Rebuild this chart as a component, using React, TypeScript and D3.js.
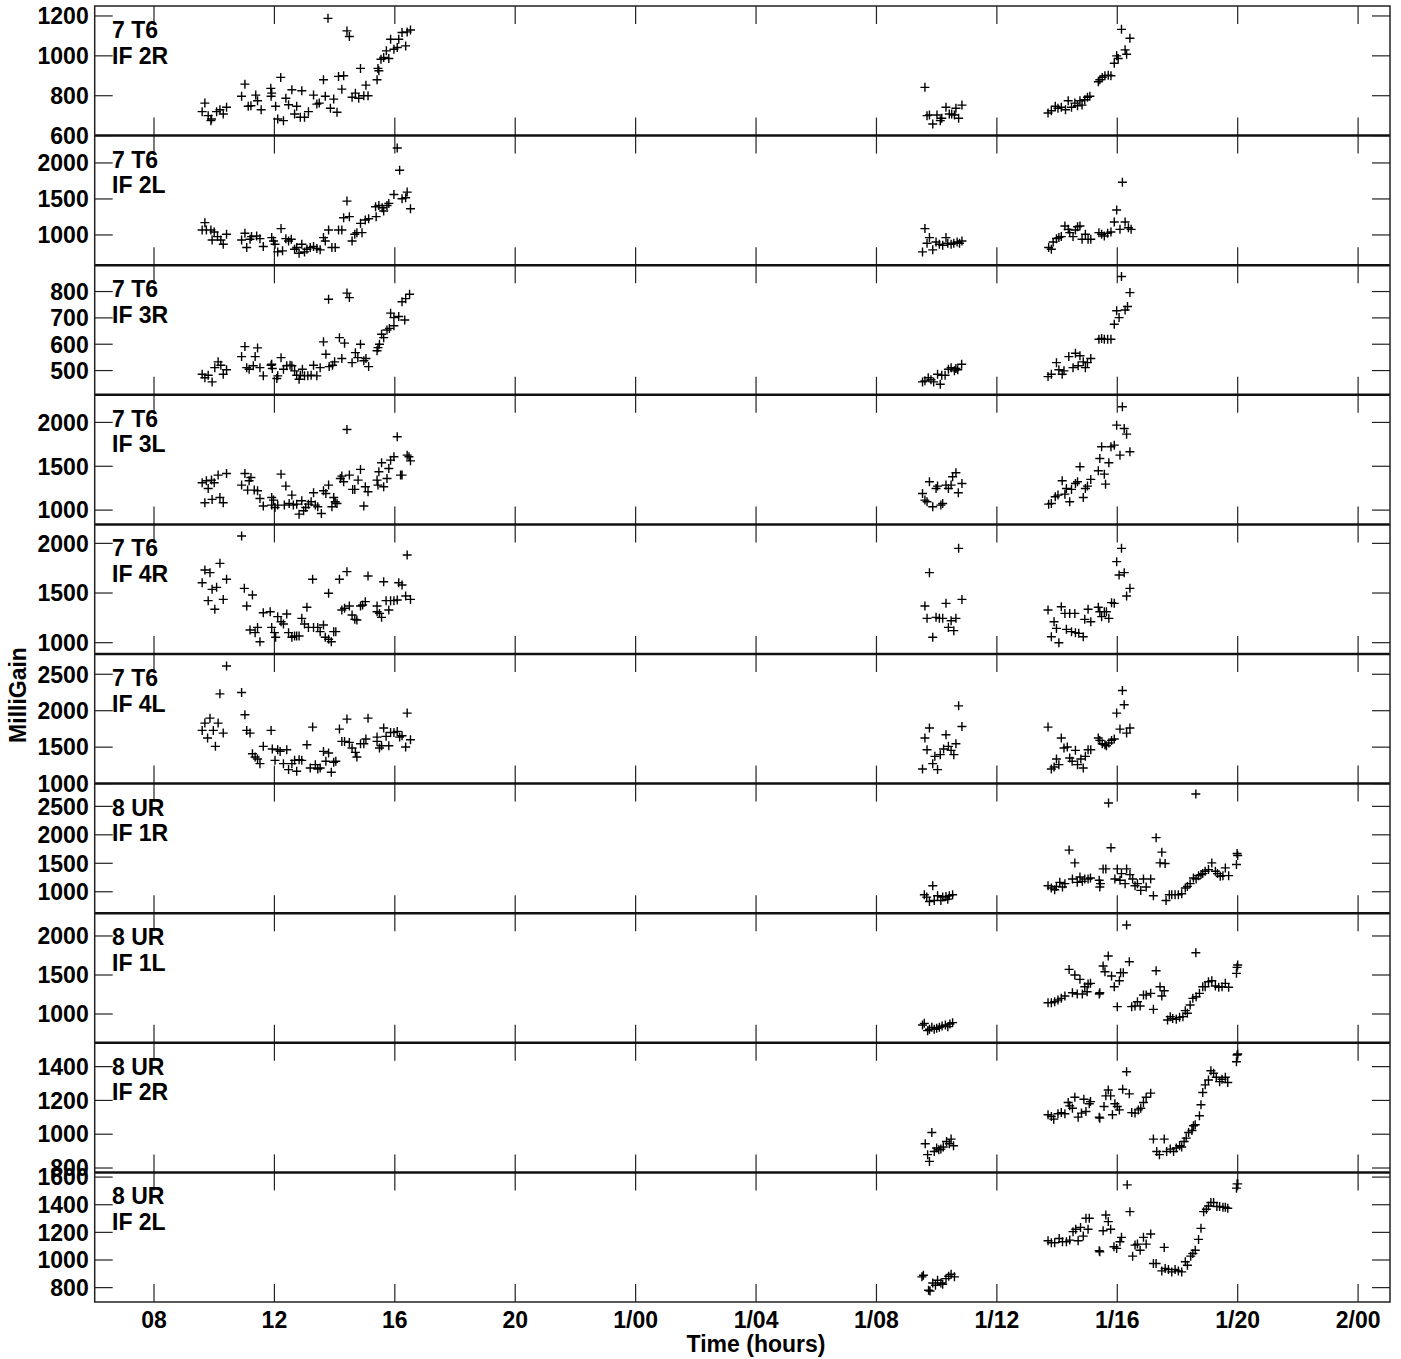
import * as d3 from 'd3'

// time axis in hours from day 0, 00:00
const timeDomain: [number, number] = [6.03, 49.06]
const timeTicks = [8, 12, 16, 20, 24, 28, 32, 36, 40, 44, 48]

// antenna 7 T6
const t6IF2R: [number, number][] = [
  [9.60, 720], [9.69, 763], [9.80, 700], [9.89, 675], [9.91, 683], [10.08, 720], [10.19, 730], [10.30, 708], [10.41, 742],
  [10.91, 797], [11.02, 858], [11.13, 747], [11.22, 750], [11.38, 803], [11.44, 775], [11.56, 730],
  [11.88, 837], [11.89, 797], [11.91, 813], [12.04, 747], [12.11, 683], [12.21, 892], [12.30, 675],
  [12.38, 787], [12.47, 755], [12.58, 830], [12.67, 708], [12.74, 747], [12.86, 692], [12.91, 825], [13.00, 692], [13.13, 720],
  [13.30, 803], [13.41, 758], [13.49, 763], [13.63, 880], [13.69, 797], [13.78, 1188], [13.86, 737], [13.97, 783], [14.08, 717],
  [14.13, 897], [14.24, 833], [14.30, 900], [14.41, 1125], [14.49, 1097], [14.58, 792], [14.69, 813], [14.80, 787], [14.86, 937],
  [14.97, 800], [15.04, 853], [15.11, 800], [15.41, 880], [15.44, 937], [15.47, 925], [15.54, 983], [15.63, 992], [15.72, 1025],
  [15.80, 987], [15.86, 1083], [15.97, 1033], [16.08, 1042], [16.13, 1083], [16.24, 1117], [16.36, 1050], [16.41, 1120], [16.52, 1130],
  [33.61, 842], [33.68, 700], [33.76, 703], [33.87, 658], [34.01, 703], [34.12, 675], [34.17, 687], [34.31, 742], [34.42, 708],
  [34.50, 708], [34.59, 703], [34.64, 737], [34.73, 687], [34.84, 753],
  [37.70, 713], [37.81, 725], [37.94, 747], [38.03, 737], [38.14, 742], [38.28, 730], [38.37, 775], [38.48, 742], [38.59, 763],
  [38.68, 750], [38.76, 775], [38.83, 753], [38.92, 780], [39.01, 792], [39.09, 797], [39.37, 870], [39.42, 880], [39.50, 892],
  [39.59, 900], [39.70, 903], [39.79, 900], [39.90, 963], [39.98, 1000], [40.03, 987], [40.14, 1133], [40.26, 1030], [40.31, 1008], [40.42, 1088],
]

const t6IF2L: [number, number][] = [
  [9.60, 1069], [9.69, 1171], [9.74, 1069], [9.89, 1069], [9.93, 931], [10.00, 1041], [10.11, 977], [10.22, 931], [10.30, 871], [10.41, 1009],
  [10.91, 931], [11.02, 1023], [11.08, 825], [11.19, 940], [11.24, 977], [11.41, 986], [11.52, 949], [11.63, 839],
  [11.91, 963], [11.97, 917], [12.02, 871], [12.11, 765], [12.22, 1088], [12.27, 779], [12.38, 949], [12.47, 917], [12.56, 940],
  [12.67, 802], [12.74, 825], [12.82, 746], [12.91, 871], [13.00, 765], [13.08, 802], [13.19, 825], [13.30, 839], [13.41, 811],
  [13.52, 793], [13.63, 963], [13.69, 917], [13.80, 1069], [13.91, 825], [14.02, 825], [14.13, 1069], [14.24, 1069], [14.30, 1240],
  [14.41, 1470], [14.49, 1254], [14.58, 917], [14.67, 1009], [14.74, 1032], [14.86, 1161], [14.91, 1032], [15.02, 1207], [15.13, 1226],
  [15.36, 1392], [15.38, 1254], [15.47, 1410], [15.58, 1378], [15.63, 1332], [15.74, 1410], [15.80, 1438], [15.97, 1562],
  [16.08, 2208], [16.16, 1899], [16.24, 1502], [16.36, 1516], [16.41, 1595], [16.52, 1364],
  [33.53, 765], [33.61, 1088], [33.68, 885], [33.76, 963], [33.87, 793], [33.98, 903], [34.09, 871], [34.20, 857], [34.31, 963],
  [34.37, 885], [34.48, 871], [34.57, 885], [34.68, 903], [34.76, 885], [34.84, 917],
  [37.72, 825], [37.81, 802], [37.87, 903], [37.98, 949], [38.06, 963], [38.14, 977], [38.26, 1124], [38.37, 1078], [38.42, 1032],
  [38.53, 977], [38.61, 1069], [38.68, 1115], [38.76, 1124], [38.83, 940], [38.94, 1009], [39.03, 940], [39.12, 940],
  [39.39, 1032], [39.48, 1009], [39.57, 986], [39.68, 1023], [39.79, 1041], [39.90, 1180], [39.98, 1346], [40.09, 1078],
  [40.17, 1733], [40.26, 1180], [40.37, 1101], [40.46, 1078],
]

const t6IF3R: [number, number][] = [
  [9.60, 486], [9.69, 473], [9.80, 482], [9.93, 457], [10.02, 511], [10.13, 533], [10.22, 520], [10.30, 486], [10.41, 503],
  [10.91, 553], [11.02, 591], [11.08, 511], [11.16, 505], [11.30, 518], [11.36, 553], [11.44, 586], [11.52, 511], [11.63, 480],
  [11.89, 520], [11.91, 524], [11.93, 508], [12.08, 470], [12.11, 480], [12.22, 549], [12.30, 505], [12.41, 518], [12.52, 520],
  [12.58, 518], [12.67, 499], [12.74, 482], [12.82, 467], [12.86, 482], [12.93, 505], [13.00, 480], [13.11, 480], [13.22, 482],
  [13.30, 520], [13.41, 480], [13.52, 511], [13.63, 609], [13.71, 562], [13.80, 771], [13.82, 515], [13.93, 520], [14.00, 533],
  [14.16, 625], [14.24, 546], [14.33, 604], [14.41, 794], [14.49, 777], [14.58, 530], [14.69, 568], [14.77, 549], [14.86, 600],
  [14.97, 537], [15.04, 546], [15.13, 515], [15.41, 575], [15.44, 587], [15.49, 600], [15.56, 638], [15.63, 625], [15.74, 654],
  [15.82, 660], [15.86, 718], [15.97, 670], [15.97, 701], [16.13, 705], [16.24, 761], [16.33, 692], [16.36, 773], [16.49, 790],
  [33.53, 457], [33.61, 461], [33.72, 473], [33.81, 465], [33.90, 457], [34.03, 486], [34.12, 448], [34.17, 482], [34.28, 482],
  [34.39, 505], [34.48, 511], [34.59, 499], [34.64, 508], [34.70, 503], [34.83, 524],
  [37.70, 477], [37.81, 486], [37.98, 530], [38.06, 503], [38.17, 486], [38.23, 499], [38.39, 553], [38.53, 511], [38.61, 566],
  [38.70, 518], [38.76, 556], [38.87, 533], [38.94, 511], [39.01, 530], [39.12, 546], [39.39, 619], [39.48, 622], [39.57, 619],
  [39.68, 619], [39.79, 619], [39.90, 676], [39.98, 727], [40.06, 701], [40.14, 857], [40.26, 730], [40.34, 743], [40.42, 796],
]

const t6IF3L: [number, number][] = [
  [9.60, 1312], [9.69, 1084], [9.74, 1334], [9.80, 1247], [9.91, 1342], [9.93, 1122], [10.00, 1312], [10.13, 1399], [10.19, 1144],
  [10.30, 1084], [10.41, 1418], [10.91, 1285], [11.02, 1418], [11.11, 1228], [11.16, 1334], [11.22, 1372], [11.33, 1228],
  [11.44, 1220], [11.52, 1133], [11.63, 1046], [11.91, 1144], [11.91, 1057], [11.97, 1114], [12.02, 1030], [12.11, 1057],
  [12.22, 1410], [12.33, 1057], [12.38, 1274], [12.49, 1076], [12.58, 1171], [12.63, 1057], [12.74, 1068], [12.82, 954],
  [12.91, 1106], [12.97, 992], [13.04, 1030], [13.13, 1068], [13.22, 1095], [13.30, 1198], [13.36, 1057], [13.44, 1038],
  [13.56, 962], [13.63, 1220], [13.71, 1190], [13.80, 1285], [13.91, 1038], [13.97, 1144], [14.02, 1095], [14.08, 1076],
  [14.19, 1361], [14.24, 1388], [14.30, 1323], [14.41, 1920], [14.49, 1399], [14.60, 1236], [14.67, 1236], [14.78, 1342],
  [14.86, 1464], [14.97, 1046], [15.02, 1266], [15.11, 1209], [15.41, 1342], [15.44, 1285], [15.47, 1437], [15.56, 1540],
  [15.63, 1266], [15.74, 1361], [15.80, 1475], [15.86, 1570], [15.97, 1608], [16.08, 1836], [16.19, 1399], [16.24, 1399],
  [16.41, 1627], [16.47, 1608], [16.52, 1562],
  [33.53, 1190], [33.61, 1114], [33.68, 1095], [33.76, 1323], [33.87, 1038], [33.98, 1247], [34.03, 1274], [34.14, 1057],
  [34.20, 1076], [34.31, 1285], [34.39, 1247], [34.48, 1285], [34.53, 1380], [34.64, 1426], [34.72, 1198], [34.84, 1304],
  [37.72, 1068], [37.81, 1076], [37.94, 1152], [38.03, 1171], [38.17, 1334], [38.26, 1182], [38.31, 1247], [38.42, 1095],
  [38.48, 1236], [38.61, 1304], [38.68, 1323], [38.76, 1494], [38.87, 1144], [38.94, 1247], [39.01, 1274], [39.12, 1350],
  [39.37, 1448], [39.42, 1589], [39.48, 1722], [39.57, 1410], [39.61, 1296], [39.72, 1540], [39.79, 1722], [39.90, 1741],
  [39.98, 1969], [40.09, 1627], [40.17, 2178], [40.23, 1931], [40.31, 1866], [40.42, 1665],
]

const t6IF4R: [number, number][] = [
  [9.60, 1604], [9.69, 1732], [9.80, 1423], [9.86, 1705], [9.93, 1537], [10.02, 1336], [10.08, 1557], [10.19, 1799], [10.30, 1436],
  [10.41, 1638], [10.91, 2074], [11.00, 1547], [11.08, 1369], [11.19, 1128], [11.27, 1480], [11.36, 1101], [11.44, 1154],
  [11.52, 1010], [11.63, 1302], [11.86, 1312], [11.91, 1154], [12.00, 1101], [12.04, 1054], [12.11, 1262], [12.22, 1211],
  [12.30, 1188], [12.41, 1289], [12.47, 1101], [12.58, 1054], [12.67, 1067], [12.74, 1067], [12.82, 1067], [12.91, 1245],
  [13.00, 1188], [13.08, 1356], [13.13, 1154], [13.27, 1638], [13.30, 1154], [13.44, 1154], [13.52, 1111], [13.63, 1178],
  [13.69, 1054], [13.80, 1034], [13.80, 1497], [13.89, 1010], [13.97, 1111], [14.04, 1111], [14.16, 1638], [14.24, 1329],
  [14.33, 1346], [14.41, 1715], [14.49, 1369], [14.58, 1279], [14.67, 1235], [14.74, 1228], [14.86, 1369], [14.93, 1379],
  [15.02, 1413], [15.11, 1671], [15.41, 1369], [15.41, 1312], [15.49, 1295], [15.56, 1255], [15.63, 1614], [15.71, 1423],
  [15.80, 1329], [15.86, 1423], [15.97, 1423], [16.08, 1430], [16.13, 1604], [16.24, 1581], [16.36, 1470], [16.41, 1883], [16.52, 1436],
  [33.61, 1369], [33.68, 1245], [33.76, 1705], [33.87, 1054], [33.98, 1255], [34.09, 1245], [34.20, 1245], [34.31, 1396],
  [34.39, 1154], [34.48, 1221], [34.57, 1121], [34.64, 1245], [34.73, 1950], [34.84, 1436],
  [37.70, 1329], [37.81, 1060], [37.90, 1211], [37.98, 1144], [38.06, 1000], [38.14, 1362], [38.26, 1295], [38.31, 1134],
  [38.42, 1295], [38.48, 1111], [38.59, 1295], [38.61, 1101], [38.72, 1094], [38.87, 1060], [38.92, 1235], [39.03, 1336],
  [39.12, 1211], [39.37, 1356], [39.42, 1312], [39.48, 1262], [39.57, 1312], [39.64, 1312], [39.72, 1245], [39.81, 1403],
  [39.90, 1396], [39.98, 1816], [40.06, 1681], [40.14, 1950], [40.23, 1705], [40.31, 1470], [40.42, 1547],
]

const t6IF4L: [number, number][] = [
  [9.60, 1730], [9.69, 1830], [9.78, 1625], [9.86, 1898], [9.97, 1730], [10.04, 1511], [10.13, 1830], [10.19, 2231], [10.30, 1693],
  [10.41, 2614], [10.91, 2249], [11.02, 1944], [11.08, 1730], [11.19, 1693], [11.27, 1410], [11.36, 1365], [11.44, 1337],
  [11.52, 1274], [11.63, 1511], [11.89, 1730], [11.93, 1474], [12.02, 1319], [12.11, 1465], [12.19, 1442], [12.30, 1274],
  [12.41, 1465], [12.47, 1192], [12.58, 1274], [12.67, 1319], [12.74, 1169], [12.82, 1328], [12.91, 1319], [13.08, 1534],
  [13.19, 1214], [13.27, 1775], [13.36, 1260], [13.44, 1201], [13.52, 1214], [13.63, 1442], [13.71, 1306], [13.80, 1420],
  [13.89, 1155], [13.97, 1292], [14.04, 1306], [14.16, 1748], [14.24, 1579], [14.33, 1579], [14.41, 1885], [14.49, 1565],
  [14.58, 1488], [14.69, 1429], [14.74, 1365], [14.86, 1547], [14.97, 1547], [15.04, 1611], [15.11, 1898], [15.41, 1638],
  [15.41, 1579], [15.49, 1488], [15.56, 1520], [15.63, 1762], [15.71, 1648], [15.80, 1520], [15.86, 1702], [15.97, 1702],
  [16.08, 1716], [16.16, 1638], [16.24, 1657], [16.36, 1502], [16.41, 1967], [16.52, 1602],
  [33.53, 1201], [33.61, 1625], [33.68, 1465], [33.76, 1762], [33.87, 1274], [33.94, 1374], [34.03, 1192], [34.12, 1397],
  [34.23, 1474], [34.31, 1670], [34.39, 1511], [34.48, 1456], [34.57, 1397], [34.64, 1547], [34.73, 2067], [34.84, 1784],
  [37.70, 1775], [37.81, 1201], [37.90, 1228], [37.98, 1337], [38.06, 1260], [38.14, 1625], [38.23, 1488], [38.34, 1502],
  [38.42, 1351], [38.50, 1306], [38.61, 1456], [38.68, 1260], [38.79, 1337], [38.87, 1214], [38.94, 1374], [39.03, 1465],
  [39.12, 1465], [39.37, 1625], [39.42, 1593], [39.50, 1547], [39.59, 1534], [39.64, 1520], [39.72, 1556], [39.81, 1593],
  [39.90, 1611], [39.98, 1967], [40.09, 1748], [40.17, 2277], [40.23, 2081], [40.31, 1693], [40.42, 1762],
]

// antenna 8 UR
const urIF1R: [number, number][] = [
  [33.59, 947], [33.67, 906], [33.76, 829], [33.87, 1106], [33.92, 847], [34.03, 929], [34.14, 847], [34.20, 906], [34.31, 917],
  [34.37, 870], [34.42, 929], [34.53, 947],
  [37.70, 1106], [37.81, 1065], [37.92, 1035], [37.98, 1094], [38.09, 1165], [38.18, 1083], [38.26, 1142], [38.40, 1732],
  [38.51, 1224], [38.59, 1507], [38.67, 1165], [38.76, 1260], [38.84, 1183], [38.92, 1224], [39.03, 1224], [39.11, 1242],
  [39.40, 1201], [39.42, 1083], [39.44, 1142], [39.53, 1401], [39.62, 1401], [39.71, 2558], [39.79, 1773], [39.92, 1224],
  [40.00, 1401], [40.09, 1201], [40.14, 1319], [40.26, 1142], [40.31, 1401], [40.42, 1301], [40.51, 1224], [40.59, 1106],
  [40.67, 1142], [40.78, 1024], [40.87, 1224], [40.96, 1083], [41.11, 1224], [41.20, 929], [41.29, 1950], [41.42, 1507],
  [41.48, 1696], [41.59, 1496], [41.62, 847], [41.73, 947], [41.81, 947], [41.92, 947], [42.03, 947], [42.14, 965],
  [42.26, 1065], [42.33, 1094], [42.42, 1142], [42.53, 1242], [42.61, 2717], [42.62, 1224], [42.70, 1283], [42.78, 1301],
  [42.84, 1319], [42.92, 1360], [43.03, 1389], [43.14, 1507], [43.26, 1360], [43.33, 1319], [43.42, 1271], [43.51, 1283],
  [43.59, 1419], [43.70, 1283], [43.96, 1478], [43.98, 1673], [44.00, 1637],
]

const urIF1L: [number, number][] = [
  [33.53, 859], [33.59, 880], [33.70, 787], [33.76, 804], [33.84, 829], [33.92, 804], [34.00, 816], [34.09, 829], [34.18, 846],
  [34.29, 859], [34.37, 838], [34.44, 872], [34.53, 889],
  [37.70, 1145], [37.81, 1145], [37.92, 1158], [38.03, 1179], [38.14, 1201], [38.26, 1231], [38.40, 1572], [38.51, 1273],
  [38.59, 1500], [38.67, 1256], [38.76, 1444], [38.84, 1256], [38.92, 1350], [39.00, 1286], [39.03, 1384], [39.11, 1393],
  [39.40, 1256], [39.42, 1273], [39.53, 1615], [39.59, 1542], [39.70, 1743], [39.81, 1487], [39.90, 1350], [40.00, 1094],
  [40.07, 1427], [40.11, 1529], [40.20, 1529], [40.31, 2140], [40.40, 1670], [40.48, 1094], [40.59, 1102], [40.67, 1158],
  [40.76, 1102], [40.87, 1243], [40.96, 1243], [41.11, 1265], [41.20, 1060], [41.29, 1555], [41.42, 1350], [41.48, 1231],
  [41.56, 1299], [41.67, 923], [41.76, 966], [41.84, 944], [41.96, 932], [42.07, 957], [42.18, 966], [42.26, 1043],
  [42.33, 1009], [42.42, 1115], [42.51, 1201], [42.61, 1786], [42.62, 1222], [42.73, 1265], [42.84, 1350], [42.92, 1350],
  [43.03, 1414], [43.14, 1427], [43.26, 1359], [43.37, 1342], [43.48, 1350], [43.59, 1393], [43.70, 1342], [43.96, 1521],
  [43.98, 1598], [44.00, 1628],
]

const urIF2R: [number, number][] = [
  [33.62, 944], [33.70, 879], [33.76, 839], [33.84, 1010], [33.92, 898], [34.00, 918], [34.07, 908], [34.14, 912], [34.22, 924],
  [34.33, 957], [34.42, 944], [34.48, 971], [34.56, 932],
  [37.70, 1115], [37.81, 1105], [37.89, 1089], [38.03, 1121], [38.14, 1128], [38.26, 1121], [38.37, 1188], [38.42, 1168],
  [38.51, 1154], [38.59, 1219], [38.70, 1101], [38.81, 1125], [38.89, 1207], [38.96, 1134], [39.07, 1180], [39.11, 1193],
  [39.40, 1101], [39.42, 1095], [39.56, 1164], [39.62, 1227], [39.70, 1262], [39.78, 1227], [39.84, 1115], [39.92, 1180],
  [40.00, 1164], [40.07, 1144], [40.18, 1266], [40.31, 1370], [40.40, 1239], [40.48, 1128], [40.59, 1125], [40.70, 1144],
  [40.78, 1154], [40.87, 1188], [40.96, 1219], [41.11, 1243], [41.20, 971], [41.31, 898], [41.40, 879], [41.56, 971],
  [41.64, 898], [41.76, 912], [41.87, 898], [41.96, 918], [42.07, 932], [42.14, 924], [42.22, 957], [42.29, 977],
  [42.37, 1010], [42.48, 1022], [42.53, 1050], [42.59, 1056], [42.73, 1109], [42.78, 1174], [42.84, 1247], [42.92, 1292],
  [43.03, 1321], [43.11, 1376], [43.20, 1361], [43.29, 1337], [43.40, 1311], [43.48, 1325], [43.59, 1337], [43.67, 1306],
  [43.96, 1429], [43.98, 1469], [44.00, 1475],
]

const urIF2L: [number, number][] = [
  [33.51, 878], [33.56, 890], [33.73, 781], [33.78, 776], [33.87, 834], [33.96, 817], [34.03, 853], [34.14, 834], [34.20, 824],
  [34.31, 865], [34.40, 882], [34.48, 897], [34.59, 878],
  [37.70, 1139], [37.81, 1125], [37.92, 1125], [38.07, 1156], [38.18, 1132], [38.31, 1132], [38.42, 1144], [38.53, 1205],
  [38.62, 1222], [38.70, 1139], [38.78, 1236], [38.87, 1173], [38.96, 1302], [39.03, 1222], [39.07, 1302], [39.40, 1067],
  [39.42, 1059], [39.53, 1212], [39.62, 1326], [39.70, 1278], [39.78, 1222], [39.89, 1096], [39.98, 1084], [40.09, 1132],
  [40.14, 1164], [40.33, 1544], [40.42, 1350], [40.51, 1028], [40.59, 1108], [40.67, 1115], [40.76, 1071], [40.87, 1164],
  [40.96, 1115], [41.11, 1188], [41.20, 975], [41.29, 975], [41.48, 921], [41.56, 1091], [41.59, 938], [41.70, 931],
  [41.81, 914], [41.92, 931], [42.03, 921], [42.14, 914], [42.26, 987], [42.33, 962], [42.44, 1028], [42.51, 1047],
  [42.59, 1071], [42.70, 1149], [42.78, 1229], [42.87, 1350], [42.96, 1367], [43.03, 1391], [43.11, 1416], [43.20, 1416],
  [43.31, 1387], [43.40, 1387], [43.51, 1382], [43.59, 1382], [43.67, 1374], [43.96, 1520], [43.98, 1551], [44.00, 1551],
]

const panelNames = [
  ['7 T6', 'IF 2R'], ['7 T6', 'IF 2L'], ['7 T6', 'IF 3R'], ['7 T6', 'IF 3L'], ['7 T6', 'IF 4R'],
  ['7 T6', 'IF 4L'], ['8 UR', 'IF 1R'], ['8 UR', 'IF 1L'], ['8 UR', 'IF 2R'], ['8 UR', 'IF 2L'],
]
const panelData = [t6IF2R, t6IF2L, t6IF3R, t6IF3L, t6IF4R, t6IF4L, urIF1R, urIF1L, urIF2R, urIF2L]
const panelRanges: [number, number][] = [
  [600, 1250], [580, 2380], [408, 900], [837, 2315], [886, 2191],
  [1000, 2778], [623, 2900], [631, 2292], [774, 1541], [696, 1634],
]
const panelTicks = [
  [600, 800, 1000, 1200], [1000, 1500, 2000], [500, 600, 700, 800], [1000, 1500, 2000], [1000, 1500, 2000],
  [1000, 1500, 2000, 2500], [1000, 1500, 2000, 2500], [1000, 1500, 2000], [800, 1000, 1200, 1400], [800, 1000, 1200, 1400, 1600],
]

const W = 1401
const H = 1359
const left = 94.7
const right = 1390
const top = 6
const bottom = 1302
const font = "'Liberation Sans', Arial, Helvetica, sans-serif"
const tickLen = 18

function timeLabel(h: number) {
  const day = Math.floor(h / 24)
  const hh = String(h % 24).padStart(2, '0')
  return day === 0 ? hh : `${day}/${hh}`
}

export default function App() {
  const x = d3.scaleLinear().domain(timeDomain).range([left, right])
  const panelH = (bottom - top) / panelData.length
  const cross = (px: number, py: number) => `M${px - 4.5},${py}h9M${px},${py - 4.5}v9`

  return (
    <svg width={W} height={H} style={{ position: 'absolute', left: 0, top: 0, background: '#fff' }}
      fontFamily={font} fontWeight="bold">
      <rect width={W} height={H} fill="#fff" />
      {panelData.map((pts, i) => {
        const y0 = top + i * panelH
        const y1 = y0 + panelH
        const y = d3.scaleLinear().domain(panelRanges[i]).range([y1, y0])
        return (
          <g key={i}>
            {timeTicks.map(t => (
              <g key={t} stroke="#222" strokeWidth={1.2}>
                <line x1={x(t)} x2={x(t)} y1={y0} y2={y0 + tickLen} />
                <line x1={x(t)} x2={x(t)} y1={y1} y2={y1 - tickLen} />
              </g>
            ))}
            {panelTicks[i].map(v => (
              <g key={v}>
                <line x1={left} x2={left + tickLen} y1={y(v)} y2={y(v)} stroke="#222" strokeWidth={1.2} />
                <line x1={right} x2={right - tickLen} y1={y(v)} y2={y(v)} stroke="#222" strokeWidth={1.2} />
                <text x={left - 6} y={y(v)} dy="0.36em" textAnchor="end" fontSize={23} fill="#000">{v}</text>
              </g>
            ))}
            <text x={112} y={y0 + 32} fontSize={23} fill="#000">{panelNames[i][0]}</text>
            <text x={112} y={y0 + 57.5} fontSize={23} fill="#000">{panelNames[i][1]}</text>
            <path d={pts.map(([t, v]) => cross(x(t), y(v))).join('')} stroke="#000" strokeWidth={1.4} fill="none" />
          </g>
        )
      })}
      {d3.range(1, panelData.length).map(i => (
        <line key={i} x1={left} x2={right} y1={top + i * panelH} y2={top + i * panelH} stroke="#111" strokeWidth={2.5} />
      ))}
      <rect x={left} y={top} width={right - left} height={bottom - top} fill="none" stroke="#222" strokeWidth={1.5} />
      {timeTicks.map(t => (
        <text key={t} x={x(t)} y={bottom + 26} textAnchor="middle" fontSize={23} fill="#000">{timeLabel(t)}</text>
      ))}
      <text x={756} y={bottom + 50} textAnchor="middle" fontSize={23} fill="#000">Time (hours)</text>
      <text transform={`translate(26,695) rotate(-90)`} textAnchor="middle" fontSize={23} fill="#000">MilliGain</text>
    </svg>
  )
}
